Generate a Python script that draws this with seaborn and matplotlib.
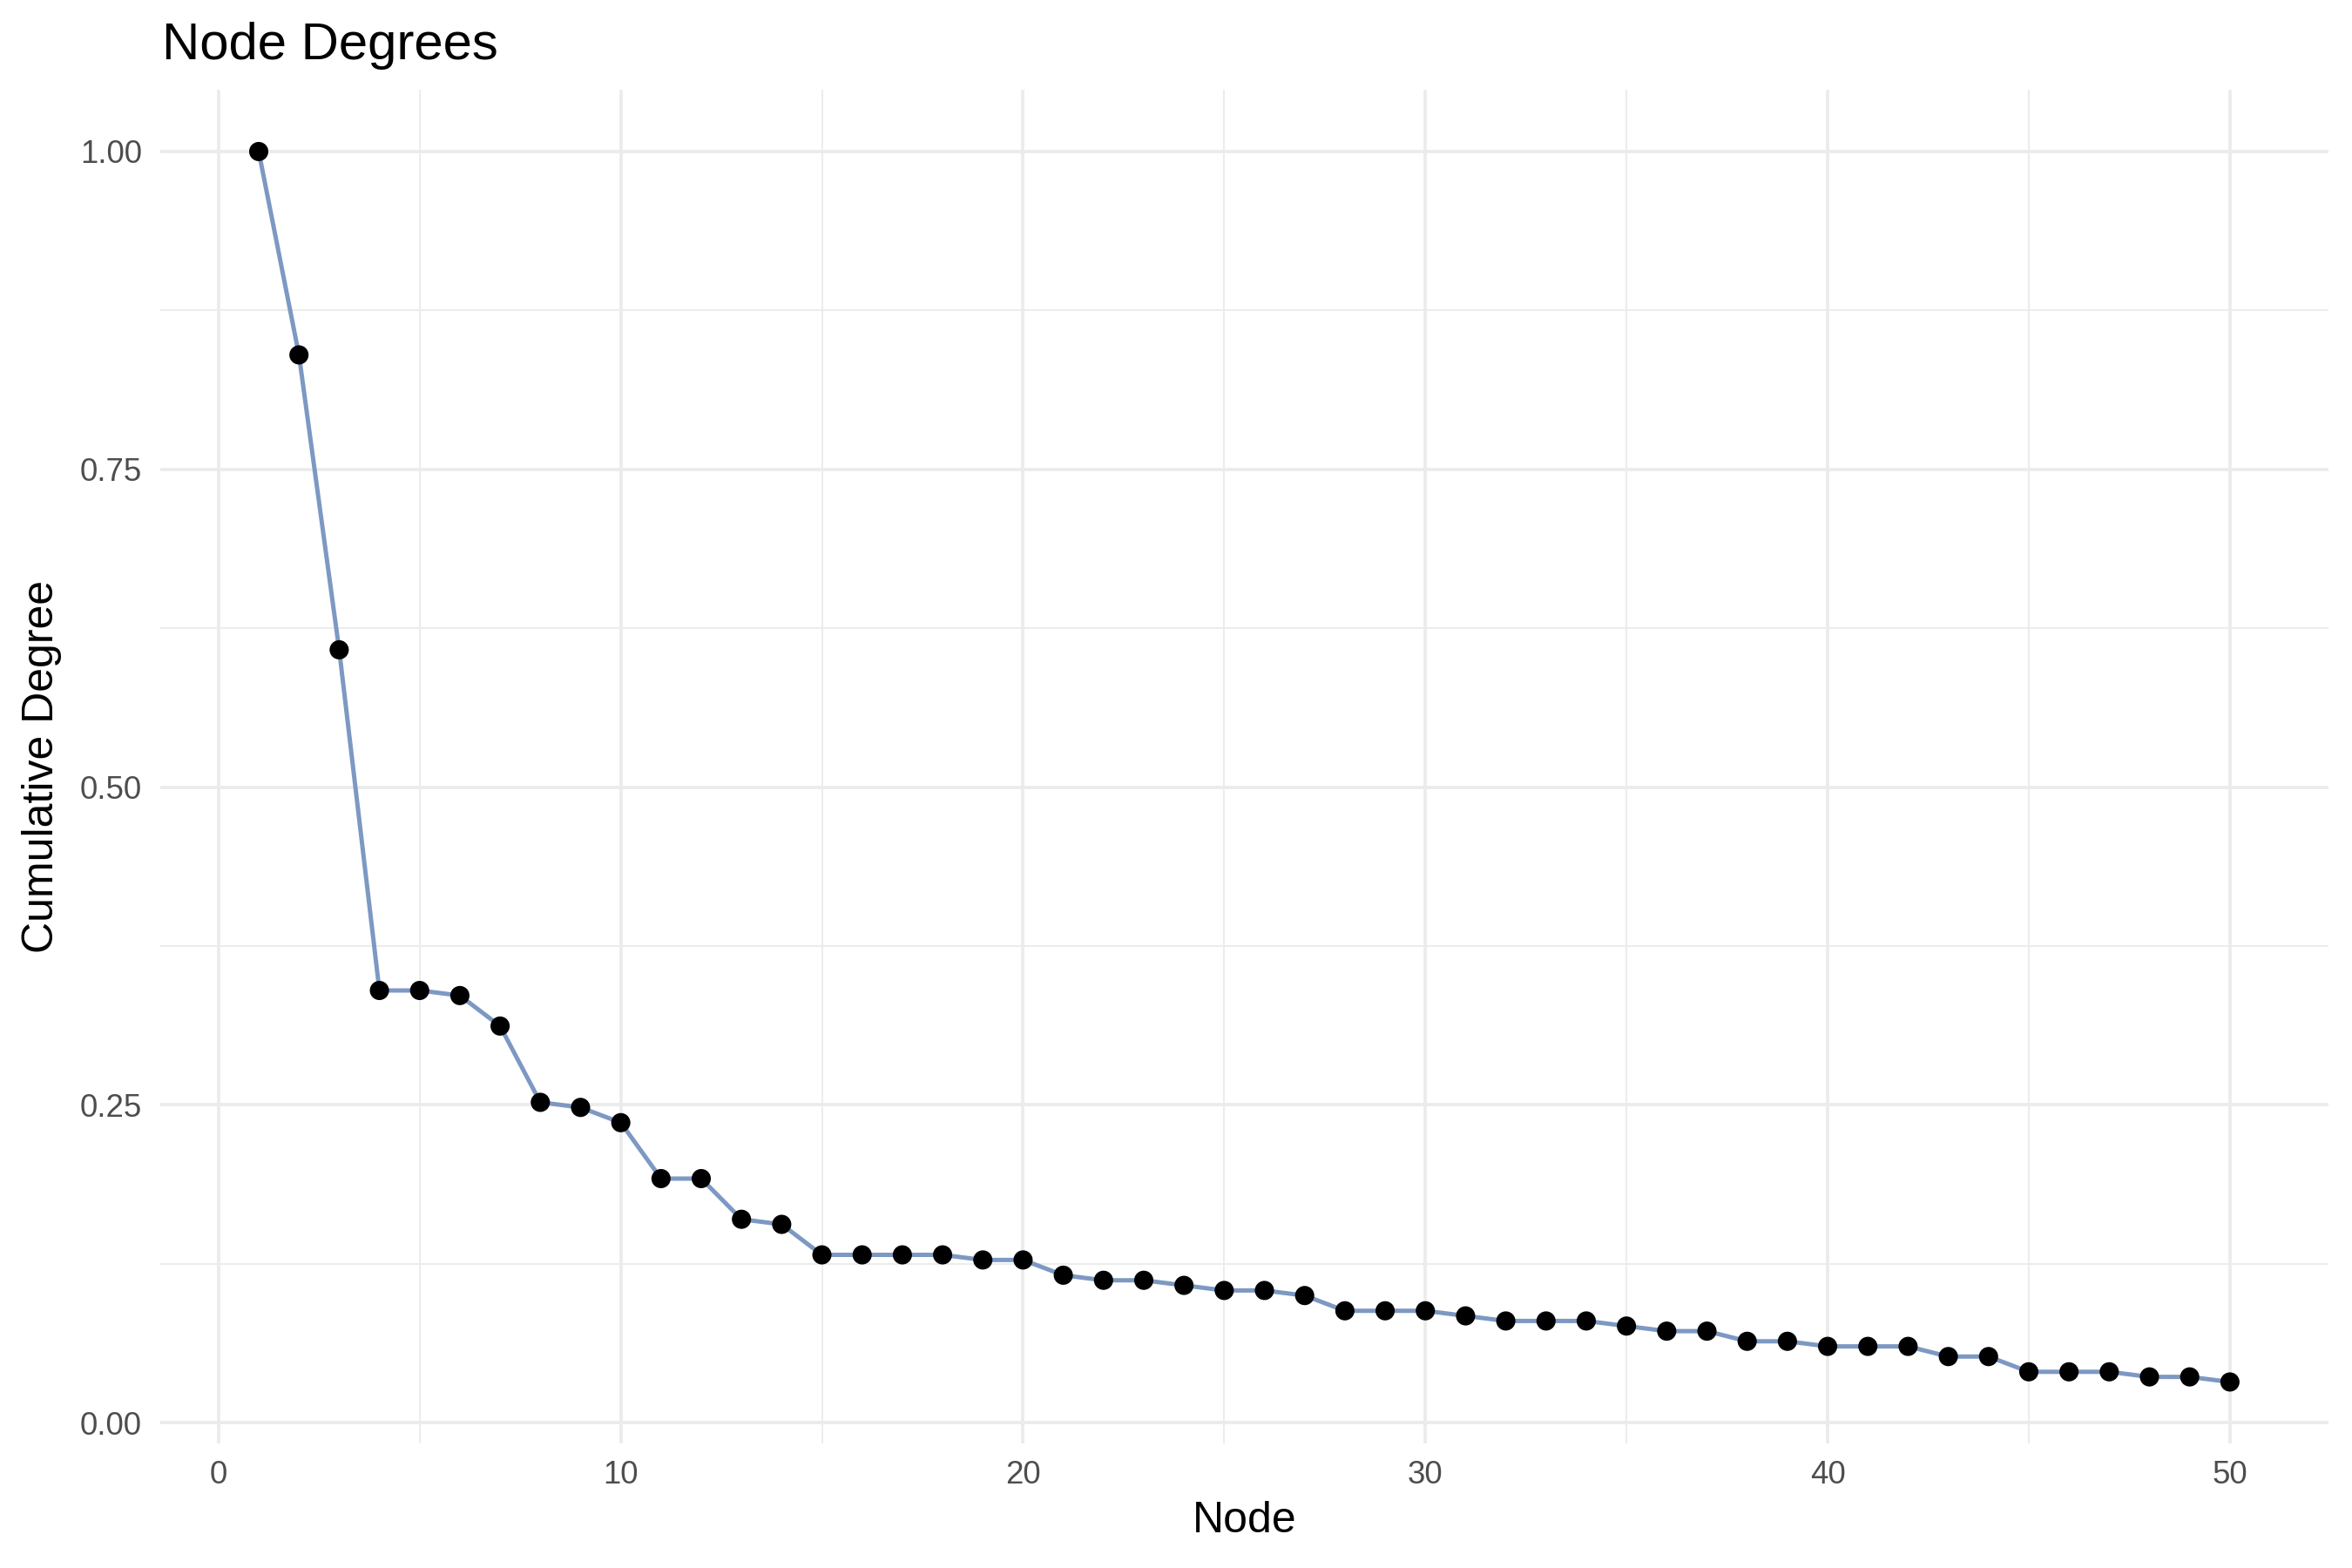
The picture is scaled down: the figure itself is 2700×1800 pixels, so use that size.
import pandas as pd
import numpy as np
import seaborn as sns
import matplotlib.pyplot as plt
from matplotlib.ticker import MultipleLocator, FixedLocator

# cumulative degree per node
nodes = list(range(1, 51))
cum_degree = [1.000, 0.840, 0.608, 0.340, 0.340, 0.336, 0.312, 0.252, 0.248, 0.236,
              0.192, 0.192, 0.160, 0.156, 0.132, 0.132, 0.132, 0.132, 0.128, 0.128,
              0.116, 0.112, 0.112, 0.108, 0.104, 0.104, 0.100, 0.088, 0.088, 0.088,
              0.084, 0.080, 0.080, 0.080, 0.076, 0.072, 0.072, 0.064, 0.064, 0.060,
              0.060, 0.060, 0.052, 0.052, 0.040, 0.040, 0.040, 0.036, 0.036, 0.032]

x_ticks = [0, 10, 20, 30, 40, 50]
y_ticks = [0.00, 0.25, 0.50, 0.75, 1.00]

df = pd.DataFrame({'Node': nodes, 'Degree': cum_degree})

sns.set_theme(style='white')
plt.rcParams['font.family'] = ['Liberation Sans', 'DejaVu Sans']

fig = plt.figure(figsize=(9, 6), dpi=300)
ax = fig.add_axes([0.0681, 0.0794, 0.9219, 0.8632])

sns.lineplot(data=df, x='Node', y='Degree', color='#7D98C3', linewidth=1.2, ax=ax, zorder=2)
sns.scatterplot(data=df, x='Node', y='Degree', color='black', s=28, edgecolor='none', ax=ax, zorder=3)

# ggplot-like 5% expansion
xr = max(nodes) - min(nodes)
yr = max(cum_degree) - min(cum_degree)
ax.set_xlim(min(nodes) - 0.05 * xr, max(nodes) + 0.05 * xr)
ax.set_ylim(min(cum_degree) - 0.05 * yr, max(cum_degree) + 0.05 * yr)

ax.xaxis.set_major_locator(FixedLocator(x_ticks))
ax.xaxis.set_minor_locator(MultipleLocator(5))
ax.yaxis.set_major_locator(FixedLocator(y_ticks))
ax.yaxis.set_minor_locator(MultipleLocator(0.125))
ax.set_yticklabels([f'{v:.2f}' for v in y_ticks])

ax.grid(which='major', color='#EBEBEB', linewidth=0.9)
ax.grid(which='minor', color='#EBEBEB', linewidth=0.45)
ax.set_axisbelow(True)
for s in ax.spines.values():
    s.set_visible(False)

ax.tick_params(axis='both', which='both', length=0, labelsize=8.8, labelcolor='#4D4D4D')
ax.tick_params(axis='y', pad=5)
ax.tick_params(axis='x', pad=4.5)

ax.set_xlabel('Node', fontsize=12, color='black', labelpad=3)
ax.set_ylabel('Cumulative Degree', fontsize=12, color='black', labelpad=5)
fig.text(0.069, 0.962, 'Node Degrees', fontsize=14.4, color='black', ha='left', va='baseline')

fig.savefig('out.png', dpi=300)
